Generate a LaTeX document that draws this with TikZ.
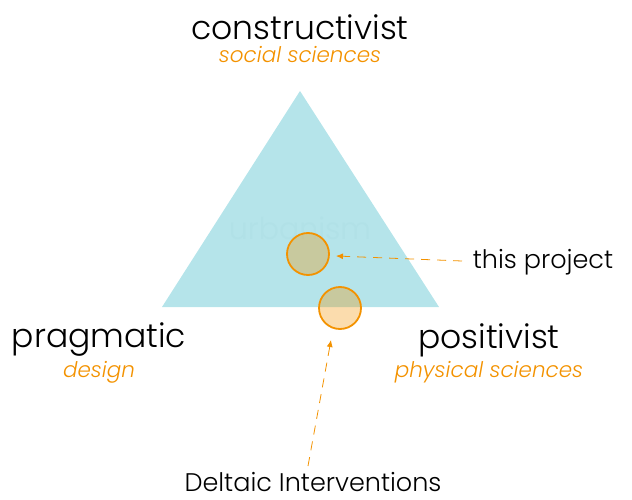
\documentclass[tikz,border=0pt]{standalone}
\usepackage{fontspec}
\setmainfont{Poppins}[UprightFont=* Light, ItalicFont=* Light Italic]
\usepackage{xcolor}
\usepackage{tikz}
\usetikzlibrary{positioning, arrows.meta}
\definecolor{paleblue}{HTML}{B5E4EA}
\definecolor{deltaorange}{HTML}{F39200}
\definecolor{faintblue}{HTML}{B1E1E7}

\begin{document}
\begin{tikzpicture}[x=1pt,y=-1pt]
	\tikzstyle{big}=[font=\fontsize{33}{33}\selectfont,text=black,inner sep=0pt]
	\tikzstyle{mid}=[font=\fontsize{25.5}{25.5}\selectfont,text=black,inner sep=0pt]
	\tikzstyle{sub}=[font=\fontsize{21.5}{21.5}\selectfont\itshape,text=deltaorange,inner sep=0pt]
	\tikzstyle{spot}=[circle,draw=deltaorange,line width=1.8pt,fill=deltaorange,fill opacity=0.32,minimum size=42pt,inner sep=0pt]
	\tikzstyle{pointer}=[color=deltaorange,dash pattern=on 9pt off 7pt,line width=0.8pt,-{Latex[length=7pt,width=6pt]}]
	\useasboundingbox (0,0) rectangle (632,500);
	% triangle
	\coordinate (top) at (300,91);
	\coordinate (left) at (162,307);
	\coordinate (right) at (439,307);
	\fill[paleblue] (top) -- (left) -- (right) -- cycle;
	\node[font=\fontsize{30}{30}\selectfont,text=faintblue] (urb) at (300,228) {urbanism};
	% corners
	\node[big](constr) at (300,27) {constructivist};
	\node[sub](social) at (300,55) {social sciences};
	\node[big](prag) at (99,340) {pragmatic};
	\node[sub](design) at (99,372) {design};
	\node[big](posit) at (489,340) {positivist};
	\node[sub](phys) at (489,372) {physical sciences};
	% circles
	\node[spot](proj) at (308,254) {};
	\node[spot](delta) at (340,308) {};
	\node[mid](projlabel) at (543,262) {this project};
	\node[mid](deltalabel) at (313,482) {Deltaic Interventions};
	\coordinate (p1) at (462,261);
	\coordinate (q1) at (336,256);
	\coordinate (p2) at (308,466);
	\coordinate (q2) at (331,340);
	\path[pointer]
		(p1) edge (q1)
		(p2) edge (q2);
\end{tikzpicture}
\end{document}
